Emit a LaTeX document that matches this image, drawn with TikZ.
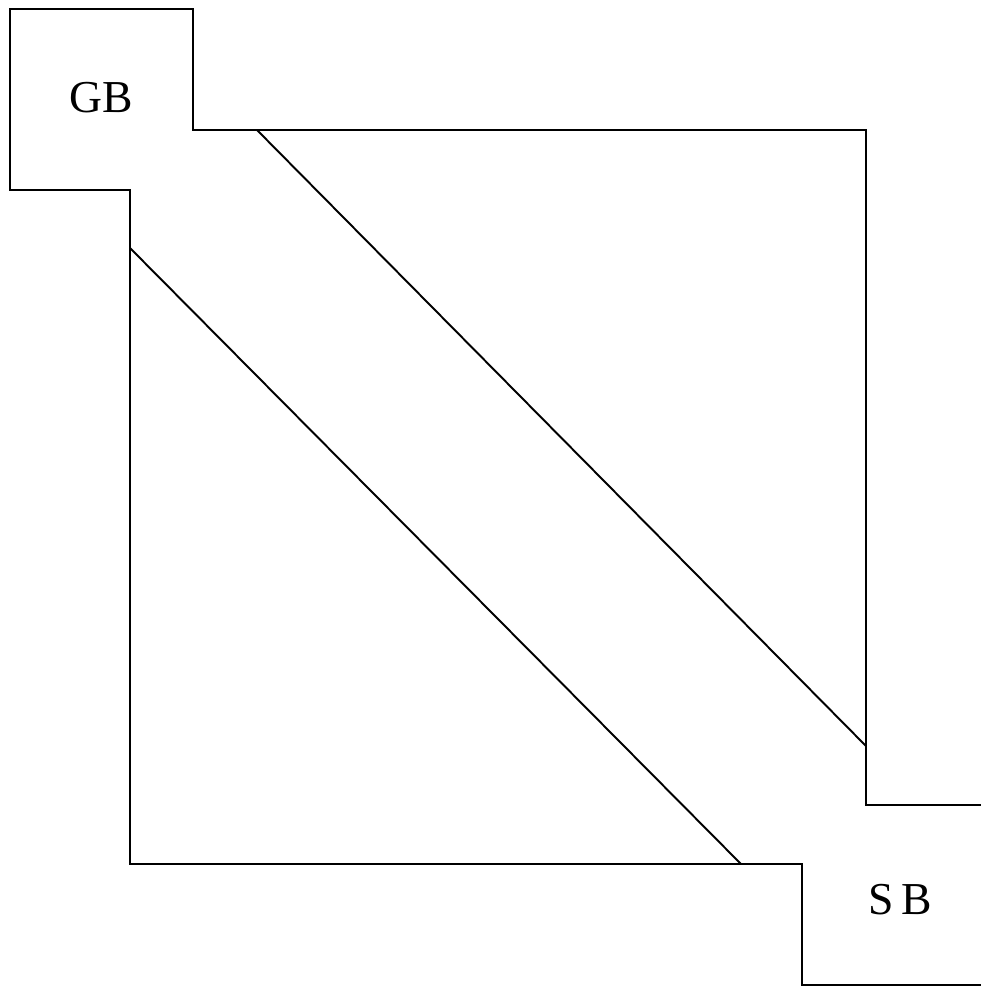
\documentclass[tikz,border=0pt]{standalone}
\usepackage{fontspec}
\setmainfont{Liberation Serif}
\tikzstyle{wall} = [line width=1.4pt, line join=miter]
\tikzstyle{band} = [line width=1.1pt]
\tikzstyle{boxname} = [font=\fontsize{26}{30}\selectfont, inner sep=0pt]

\begin{document}
\begin{tikzpicture}[x=0.02cm, y=-0.02cm]
			\useasboundingbox (0,0) rectangle (981,988);
			% outline of the square with its two boxes
			\coordinate (sbtop) at (981,805);
			\coordinate (se) at (866,805);
			\coordinate (ne) at (866,130);
			\coordinate (gbin) at (193,130);
			\coordinate (gbne) at (193,9);
			\coordinate (gbnw) at (10,9);
			\coordinate (gbsw) at (10,190);
			\coordinate (nw) at (130,190);
			\coordinate (sw) at (130,864);
			\coordinate (sbin) at (802,864);
			\coordinate (sbsw) at (802,985);
			\coordinate (sbbot) at (981,985);
			\draw[wall] (sbtop) -- (se) -- (ne) -- (gbin) -- (gbne) -- (gbnw) -- (gbsw) -- (nw) -- (sw) -- (sbin) -- (sbsw) -- (sbbot);
			% diagonal band
			\coordinate (a1) at (257,130);
			\coordinate (a2) at (866,746);
			\coordinate (b1) at (130,248);
			\coordinate (b2) at (741,864);
			\draw[band] (a1) -- (a2);
			\draw[band] (b1) -- (b2);
			\node[boxname] (gb) at (101,98) {GB};
			\node[boxname] (sb) at (900,900) {S\,B};
		\end{tikzpicture}
\end{document}
